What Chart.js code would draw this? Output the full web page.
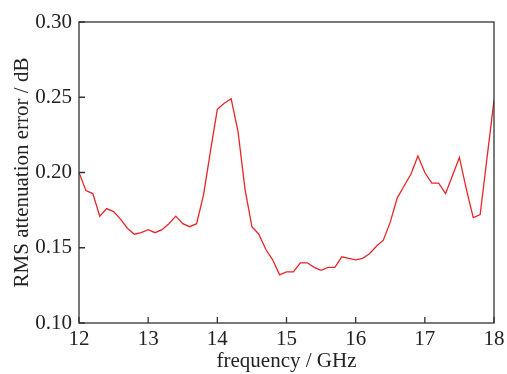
<!DOCTYPE html>
<html>
<head>
<meta charset="utf-8">
<script src="https://cdn.jsdelivr.net/npm/chart.js@4/dist/chart.umd.min.js"></script>
<style>
  html, body { margin: 0; padding: 0; background: #fff; }
  #wrap { width: 507px; height: 374px; }
</style>
</head>
<body>
<div id="wrap"><canvas id="myChart" width="507" height="374"></canvas></div>
<script>
const freqs = [
  12.0, 12.1, 12.2, 12.3, 12.4, 12.5, 12.6, 12.7, 12.8, 12.9,
  13.0, 13.1, 13.2, 13.3, 13.4, 13.5, 13.6, 13.7, 13.8, 13.9,
  14.0, 14.1, 14.2, 14.3, 14.4, 14.5, 14.6, 14.7, 14.8, 14.9,
  15.0, 15.1, 15.2, 15.3, 15.4, 15.5, 15.6, 15.7, 15.8, 15.9,
  16.0, 16.1, 16.2, 16.3, 16.4, 16.5, 16.6, 16.7, 16.8, 16.9,
  17.0, 17.1, 17.2, 17.3, 17.4, 17.5, 17.6, 17.7, 17.8, 17.9, 18.0
];
const rmsError = [
  0.200, 0.188, 0.186, 0.171, 0.176, 0.174, 0.169, 0.163, 0.159, 0.160,
  0.162, 0.160, 0.162, 0.166, 0.171, 0.166, 0.164, 0.166, 0.185, 0.214,
  0.242, 0.246, 0.249, 0.227, 0.189, 0.164, 0.159, 0.149, 0.142, 0.132,
  0.134, 0.134, 0.140, 0.140, 0.137, 0.135, 0.137, 0.137, 0.144, 0.143,
  0.142, 0.143, 0.146, 0.151, 0.155, 0.167, 0.183, 0.191, 0.199, 0.211,
  0.200, 0.193, 0.193, 0.186, 0.198, 0.210, 0.189, 0.170, 0.172, 0.210, 0.248
];
const xTicks = [12, 13, 14, 15, 16, 17, 18];
const yTicks = [0.10, 0.15, 0.20, 0.25, 0.30];

const serif = "'Liberation Serif', 'Times New Roman', serif";

// ticks point into the plot, plus the closed frame
const frameTicks = {
  id: 'frameTicks',
  afterDraw(chart) {
    const c = chart.ctx, a = chart.chartArea;
    const xs = chart.scales.x, ys = chart.scales.y;
    c.save();
    c.strokeStyle = '#333';
    c.lineWidth = 1.3;
    c.strokeRect(a.left, a.top, a.right - a.left, a.bottom - a.top);
    c.beginPath();
    xTicks.forEach(v => {
      const px = xs.getPixelForValue(v);
      c.moveTo(px, a.bottom);
      c.lineTo(px, a.bottom - 6);
    });
    yTicks.forEach(v => {
      const py = ys.getPixelForValue(v);
      c.moveTo(a.left, py);
      c.lineTo(a.left + 6, py);
    });
    c.stroke();
    c.restore();
  }
};

var ctx = document.getElementById('myChart').getContext('2d');
var myChart = new Chart(ctx, {
  type: 'line',
  data: {
    datasets: [{
      data: freqs.map((f, i) => ({ x: f, y: rmsError[i] })),
      borderColor: '#e8262a',
      borderWidth: 1.3,
      pointRadius: 0,
      tension: 0,
      fill: false
    }]
  },
  options: {
    responsive: false,
    animation: false,
    layout: { padding: { top: 22, right: 13, bottom: 0, left: 0 } },
    plugins: { legend: { display: false }, tooltip: { enabled: false } },
    scales: {
      x: {
        type: 'linear',
        min: 12, max: 18,
        afterBuildTicks: s => { s.ticks = xTicks.map(v => ({ value: v })); },
        grid: { display: false, drawTicks: false },
        border: { display: false },
        ticks: { color: '#222', padding: 4, font: { family: serif, size: 21 } },
        title: { display: true, text: 'frequency / GHz', color: '#222', padding: { top: 1, bottom: 0 }, font: { family: serif, size: 21 } },
        afterFit: s => { s.height = 51; s.paddingLeft = 0; s.paddingRight = 0; }
      },
      y: {
        min: 0.10, max: 0.30,
        afterBuildTicks: s => { s.ticks = yTicks.map(v => ({ value: v })); },
        grid: { display: false, drawTicks: false },
        border: { display: false },
        ticks: { color: '#222', padding: 7, font: { family: serif, size: 21 } , callback: v => v.toFixed(2) },
        title: { display: true, text: 'RMS attenuation error / dB', color: '#222', padding: { top: 10, bottom: 4 }, font: { family: serif, size: 21 } },
        afterFit: s => { s.width = 79; s.paddingTop = 0; s.paddingBottom = 0; }
      }
    }
  },
  plugins: [frameTicks]
});
</script>
</body>
</html>
